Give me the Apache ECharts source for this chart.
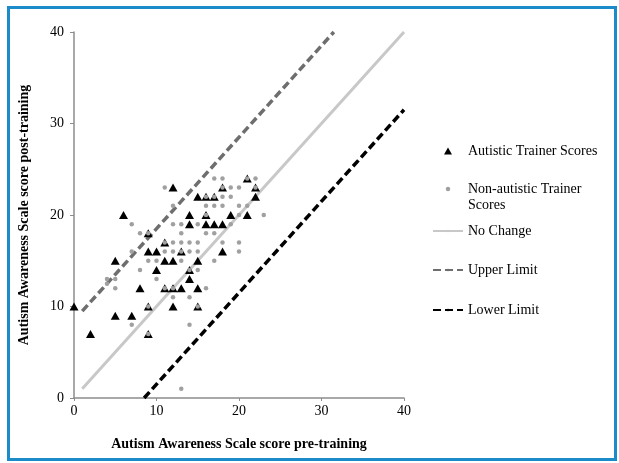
<!DOCTYPE html>
<html><head><meta charset="utf-8">
<script src="https://cdn.jsdelivr.net/npm/echarts@6/dist/echarts.min.js"></script>
<style>html,body{margin:0;padding:0;background:#fff}#c{width:619px;height:463px}</style>
</head><body><div id="c"></div>
<script>
// Autistic trainer scores [pre, post]
var autistic = [
  [21,24],
  [12,23],[18,23],[22,23],
  [15,22],[16,22],[17,22],[22,22],
  [6,20],[14,20],[16,20],[19,20],[21,20],
  [14,19],[16,19],[17,19],[18,19],
  [9,18],
  [11,17],
  [9,16],[10,16],[13,16],[18,16],
  [5,15],[11,15],[12,15],[15,15],
  [10,14],[14,14],
  [14,13],
  [8,12],[11,12],[12,12],[13,12],[15,12],
  [0,10],[9,10],[12,10],[15,10],
  [5,9],[7,9],
  [2,7],[9,7]
];
// Non-autistic trainer scores [pre, post]
var nonAutistic = [
  [17,24],[18,24],[21,24],[22,24],
  [11,23],[18,23],[19,23],[20,23],[22,23],
  [16,22],[17,22],[18,22],[19,22],
  [12,21],[16,21],[17,21],[18,21],[20,21],[21,21],
  [16,20],[20,20],[23,20],
  [7,19],[12,19],[13,19],[15,19],[19,19],
  [8,18],[9,18],[13,18],[16,18],[17,18],
  [11,17],[12,17],[13,17],[14,17],[15,17],[18,17],[20,17],
  [7,16],[11,16],[12,16],[13,16],[14,16],[15,16],[20,16],
  [9,15],[10,15],[13,15],[17,15],
  [8,14],[14,14],[15,14],
  [4,13],[5,13],[10,13],
  [4,12.5],
  [5,12],[11,12],[12,12],[16,12],
  [12,11],[14,11],
  [9,10],[15,10],
  [7,8],[14,8],
  [9,7],
  [13,1]
];
var noChange = [[1,1],[40,40]];
var upperLimit = [[1,9.5],[31.5,40]];
var lowerLimit = [[8.5,0],[40,31.5]];
var axisTicks = {min:0, max:40, interval:10};

var serif = '"Liberation Serif","Times New Roman",serif';
var chart = echarts.init(document.getElementById('c'), null, {renderer:'canvas'});
function leg(name, top, left, iw, ih, padLeft, extra){
  var o = {
    data:[name], orient:'vertical', left:left, top:top,
    itemWidth:iw, itemHeight:ih, itemGap:0, selectedMode:false,
    textStyle:{fontFamily:serif, fontSize:14, color:'#000', lineHeight:17, padding:[0,0,0,padLeft]}
  };
  if (extra) for (var k in extra) o[k]=extra[k];
  return o;
}
chart.setOption({
  animation:false,
  backgroundColor:'#fff',
  graphic:[
    {type:'rect', left:6, top:5, shape:{width:607, height:452},
      style:{fill:'none', stroke:'#1b8cc9', lineWidth:3}, z:100},
    {type:'text', left:468, top:198, style:{text:'Scores', font:'14px "Liberation Serif", serif', fill:'#000'}}
  ],
  grid:{left:74, right:215, top:32, bottom:65},
  legend:[
    leg('Autistic Trainer Scores', 137.5, 439, 8, 7, 11),
    leg('Non-autistic Trainer Scores', 175.5, 440.75, 4.5, 4.5, 12.75, {formatter:function(){return 'Non-autistic Trainer';}}),
    leg('No Change', 217.5, 427, 30, 3, 0),
    leg('Upper Limit', 256.5, 427, 30, 3, 0),
    leg('Lower Limit', 296.5, 427, 30, 3, 0)
  ],
  xAxis:{type:'value', min:axisTicks.min, max:axisTicks.max, interval:axisTicks.interval,
    name:'Autism Awareness Scale score pre-training', nameLocation:'middle', nameGap:39,
    nameTextStyle:{fontFamily:serif, fontSize:14, fontWeight:'bold', color:'#000'},
    axisLine:{lineStyle:{color:'#8c8c8c', width:1.5}},
    axisTick:{show:true, length:3, lineStyle:{color:'#8c8c8c'}},
    axisLabel:{fontFamily:serif, fontSize:14, color:'#000', margin:6},
    splitLine:{show:false}},
  yAxis:{type:'value', min:axisTicks.min, max:axisTicks.max, interval:axisTicks.interval,
    name:'Autism Awareness Scale score post-training', nameLocation:'middle', nameGap:43,
    nameTextStyle:{fontFamily:serif, fontSize:14, fontWeight:'bold', color:'#000'},
    axisLine:{show:true, lineStyle:{color:'#8c8c8c', width:1.5}},
    axisTick:{show:true, length:4, lineStyle:{color:'#8c8c8c'}},
    axisLabel:{fontFamily:serif, fontSize:14, color:'#000', margin:10},
    splitLine:{show:false}},
  series:[
    {name:'No Change', type:'line', data:noChange, symbol:'none', z:2,
      lineStyle:{color:'#c8c8c8', width:3}, itemStyle:{color:'#c8c8c8'}},
    {name:'Upper Limit', type:'line', data:upperLimit, symbol:'none', z:2,
      lineStyle:{color:'#6e6e6e', width:3.5, type:[8,4]}, itemStyle:{color:'#6e6e6e'}},
    {name:'Lower Limit', type:'line', data:lowerLimit, symbol:'none', z:2,
      lineStyle:{color:'#000', width:3.5, type:[8,4]}, itemStyle:{color:'#000'}},
    {name:'Autistic Trainer Scores', type:'scatter', data:autistic, symbol:'triangle', symbolSize:[9,8], z:3,
      itemStyle:{color:'#000', opacity:1}},
    {name:'Non-autistic Trainer Scores', type:'scatter', data:nonAutistic, symbol:'circle', symbolSize:4.5, z:4,
      itemStyle:{color:'#a0a0a0', opacity:1}}
  ]
});
</script></body></html>
